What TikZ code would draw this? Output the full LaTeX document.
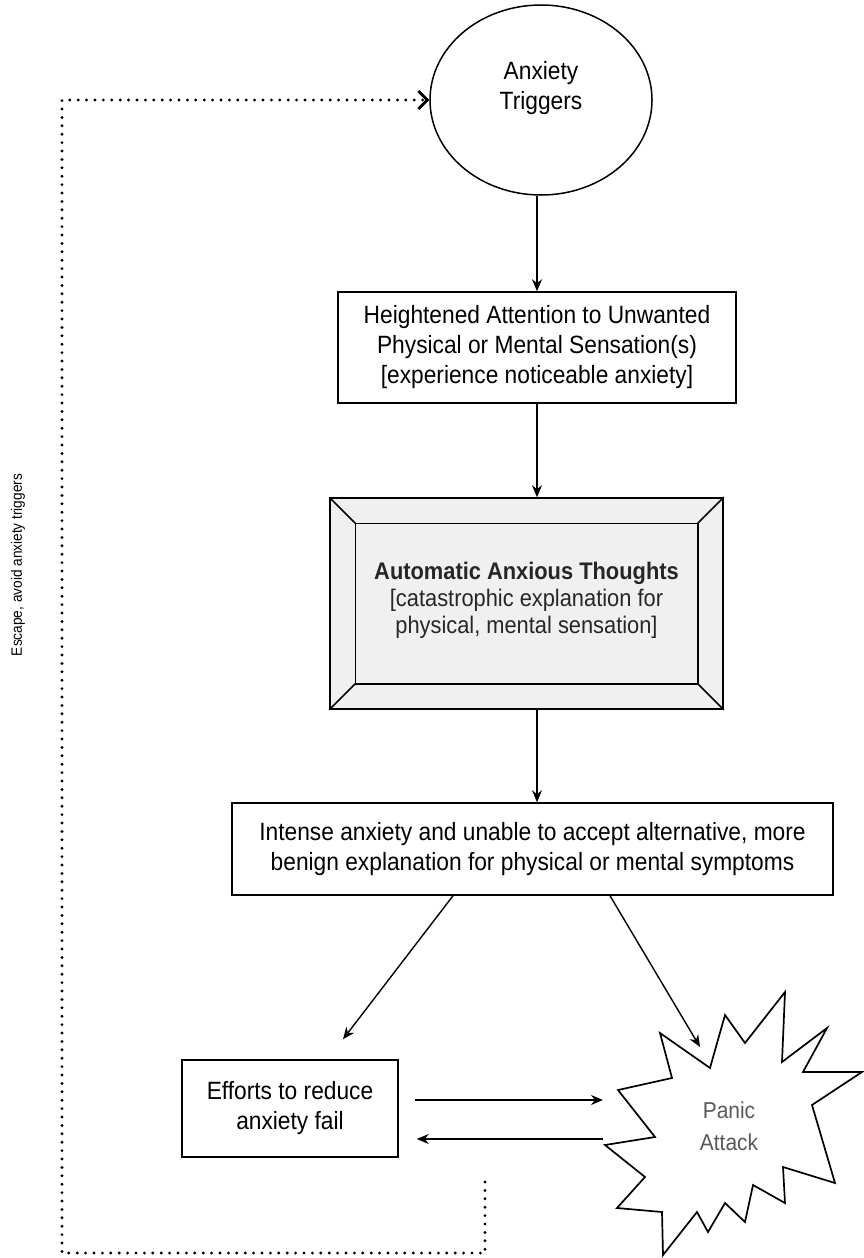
\documentclass[tikz,border=0pt]{standalone}
\usepackage{fontspec}
\setmainfont{Liberation Sans}[FakeStretch=0.91]
\usetikzlibrary{arrows.meta,shapes.geometric}
\begin{document}
\begin{tikzpicture}[x=1pt,y=-1pt,
  every node/.style={font=\fontsize{25}{30}\selectfont, align=center},
  box/.style={draw, line width=1.5pt, inner sep=0pt},
  arr/.style={line width=1.4pt, -{Stealth[length=12pt,width=10pt]}},
  fb/.style={line width=3.2pt, line cap=round, dash pattern=on 0pt off 8.4pt,
     -{Straight Barb[length=9pt,width=18pt,line width=2.8pt]}},
  bev/.style={line width=1.5pt}]
\useasboundingbox (0,0) rectangle (863,1258);

% nodes
\node[box, ellipse, minimum width=222pt, minimum height=190pt] (trig) at (541,100) {};
\node at (541,88) (trigtxt) {Anxiety\\Triggers};

\node[box, minimum width=398pt, minimum height=111pt] (heig) at (537,347.5)
  {Heightened Attention to Unwanted\\Physical or Mental Sensation(s)\\{}[experience noticeable anxiety]};

\node[box, fill=black!6, minimum width=393pt, minimum height=211pt] (auto) at (526.5,603.5) {};
\draw[bev] ([xshift=26pt,yshift=-26pt]auto.north west) rectangle ([xshift=-26pt,yshift=26pt]auto.south east);
\draw[bev] (auto.north west) -- ([xshift=26pt,yshift=-26pt]auto.north west);
\draw[bev] (auto.north east) -- ([xshift=-26pt,yshift=-26pt]auto.north east);
\draw[bev] (auto.south west) -- ([xshift=26pt,yshift=26pt]auto.south west);
\draw[bev] (auto.south east) -- ([xshift=-26pt,yshift=26pt]auto.south east);
\node[font=\fontsize{24}{27}\selectfont, text=black!85] (autotxt) at (526.5,600)
  {\textbf{Automatic Anxious Thoughts}\\{}[catastrophic explanation for\\physical, mental sensation]};

\node[box, minimum width=601pt, minimum height=92pt] (inten) at (532.5,849)
  {Intense anxiety and unable to accept alternative, more\\benign explanation for physical or mental symptoms};

\node[box, minimum width=216pt, minimum height=97pt] (effort) at (290,1108.5)
  {Efforts to reduce\\anxiety fail};

% panic star
\draw[line width=1.7pt, fill=white, line join=miter]
  (862,1072) -- (812,1105) -- (835,1183) -- (783,1167) -- (785,1203) -- (753,1185)
  -- (745,1222) -- (725,1203) -- (708,1232) -- (697,1212) -- (663,1255) -- (662,1212)
  -- (617,1208) -- (645,1177) -- (605,1145) -- (655,1137) -- (618,1090) -- (672,1078)
  -- (660,1033) -- (710,1068) -- (725,1015) -- (745,1043) -- (785,992) -- (782,1062)
  -- (827,1028) -- (803,1072) -- cycle;
\node[text=black!65, font=\fontsize{23}{32}\selectfont] (panic) at (729,1126) {Panic\\Attack};

% connector end points
\coordinate (pin) at (700,1047);
\coordinate (pa) at (603,1100);
\coordinate (pb) at (603,1139);
\coordinate (fb0) at (485,1182);
\coordinate (fbc) at (62,1253);

% connectors
\draw[arr] (heig.north |- trig.south) -- (heig.north);
\draw[arr] (heig.south) -- (heig.south |- auto.north);
\draw[arr] (heig.south |- auto.south) -- (heig.south |- inten.north);
\draw[arr] ([xshift=-79.5pt]inten.south) -- ([xshift=53pt,yshift=20pt]effort.north);
\draw[arr] ([xshift=77.5pt]inten.south) -- (pin);
\draw[arr] ([xshift=16pt,yshift=8.5pt]effort.east) -- (pa);
\draw[arr] (pb) -- ([xshift=18pt,yshift=-30.5pt]effort.east);
\draw[fb] (fb0) |- (fbc) |- (trig.west);

\node[rotate=90, font=\fontsize{15}{18}\selectfont] (esc) at (18,565) {Escape, avoid anxiety triggers};
\end{tikzpicture}
\end{document}
